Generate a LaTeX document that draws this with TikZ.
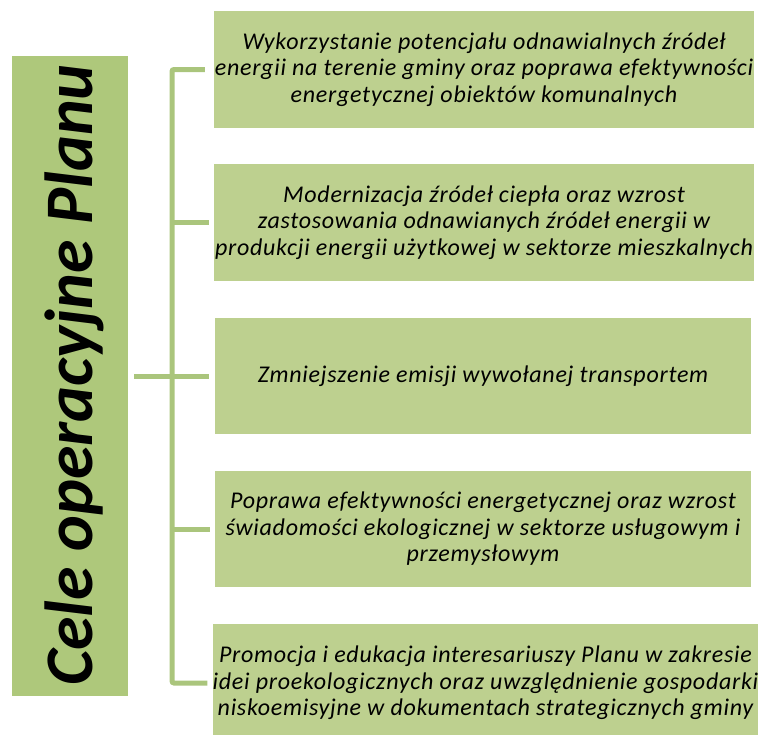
\documentclass[tikz,border=0pt]{standalone}
\usepackage{fontspec}
\setmainfont{Carlito}
\newfontfamily\boxfont[LetterSpace=3]{Carlito}
\definecolor{leftgreen}{HTML}{AEC87B}
\definecolor{boxgreen}{HTML}{BDD08F}
\definecolor{linegreen}{HTML}{AAC57C}
\tikzset{
  goalbox/.style={fill=boxgreen, draw=none, minimum height=117pt, inner sep=0pt,
    align=center, font=\boxfont\fontsize{24}{26.5}\selectfont\itshape},
  conn/.style={draw=linegreen, line width=5pt},
}
\begin{document}
\begin{tikzpicture}[x=1pt,y=-1pt]
\useasboundingbox (0,0) rectangle (759,734);
\clip (0,0) rectangle (759,734);
% left title box
\node[fill=leftgreen, minimum width=116pt, minimum height=640pt, inner sep=0pt] (lb) at (70,376) {};
\node[rotate=90, anchor=base, inner sep=0pt, font=\fontsize{68}{74}\selectfont\bfseries\itshape] (title) at (92,375) {Cele operacyjne Planu};
% right boxes
\node[goalbox, minimum width=540pt] (b1) at (484,69.5) {Wykorzystanie potencjału odnawialnych źródeł\\energii na terenie gminy oraz poprawa efektywności\\energetycznej obiektów komunalnych};
\node[goalbox, minimum width=540pt] (b2) at (484,222.5) {Modernizacja źródeł ciepła oraz wzrost\\zastosowania odnawianych źródeł energii w\\produkcji energii użytkowej w sektorze mieszkalnych};
\node[goalbox, minimum width=536pt, minimum height=116pt] (b3) at (483,376) {Zmniejszenie emisji wywołanej transportem};
\node[goalbox, minimum width=536pt, minimum height=116pt] (b4) at (483,529) {Poprawa efektywności energetycznej oraz wzrost\\świadomości ekologicznej w sektorze usługowym i\\przemysłowym};
\node[goalbox, minimum width=543pt, minimum height=118pt] (b5) at (485.5,683) {Promocja i edukacja interesariuszy Planu w zakresie\\idei proekologicznych oraz uwzględnienie gospodarki\\niskoemisyjne w dokumentach strategicznych gminy};
% connectors
\coordinate (trunk) at (172,376);
\draw[conn, rounded corners=2pt, shorten <=9pt, shorten >=5pt] (b1.west) -- (b1.west -| trunk) -- (b5.west -| trunk) -- (b5.west);
\draw[conn, shorten <=6pt, shorten >=6pt] (lb.east) -- (b3.west);
\draw[conn, shorten >=5pt] (b2.west -| trunk) -- (b2.west);
\draw[conn, shorten >=5pt] (b4.west -| trunk) -- (b4.west);
\end{tikzpicture}
\end{document}
